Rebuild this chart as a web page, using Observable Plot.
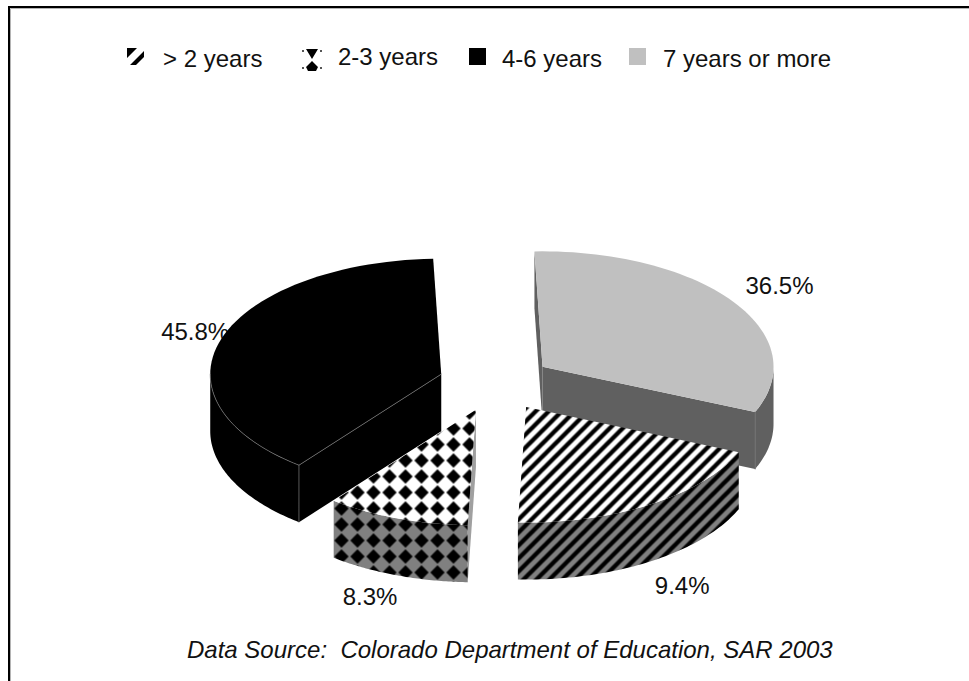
<!DOCTYPE html>
<html>
<head>
<meta charset="utf-8">
<script src="https://cdn.jsdelivr.net/npm/d3@7"></script>
<script src="https://cdn.jsdelivr.net/npm/@observablehq/plot@0.6"></script>
<style>
  html, body { margin: 0; padding: 0; background: #fff; }
  #page { position: relative; width: 969px; height: 681px; overflow: hidden;
          font-family: "Liberation Sans", Arial, sans-serif; color: #111; }
  #page > svg { position: absolute; left: 0; top: 0; }
  #legend span { position: absolute; font-size: 24px; line-height: 28px; white-space: nowrap; }
  #legend svg { position: absolute; }
  #source { position: absolute; left: 187px; top: 636px; font-size: 24px; font-style: italic; white-space: pre; }
</style>
</head>
<body>
<div id="page">
  <div id="legend"></div>
  <div id="source"></div>
</div>
<script>
// Years of teaching experience, share of teachers (percent)
const categories = ["7 years or more", "> 2 years", "2-3 years", "4-6 years"];
const shares = [36.5, 9.4, 8.3, 45.8];
const legendOrder = ["> 2 years", "2-3 years", "4-6 years", "7 years or more"];
const sourceNote = "Data Source:  Colorado Department of Education, SAR 2003";

// Disc geometry of the tilted, exploded pie, in page units
const centerX = 495, centerY = 382.5, radiusX = 231, radiusY = 115.5, depth = 57, explode = 0.247;

// The tilted view stretches the front of the disc and squeezes the rest:
// share-of-circle degrees map onto the ellipse parameter through this warp.
const viewAngle = d3.scaleLinear()
  .domain([0, 131.4, 165.2, 195.1, 360])
  .range([-2, 113, 182, 218, 358]);

const rad = (d) => d * Math.PI / 180;
let running = 0;
const slices = categories.map((name, i) => {
  const a0 = viewAngle(running * 3.6);
  running += shares[i];
  const a1 = viewAngle(running * 3.6);
  const mid = (a0 + a1) / 2;
  return {
    name, share: shares[i], a0, a1, mid,
    cx: centerX + explode * radiusX * Math.sin(rad(mid)),
    cy: centerY - explode * radiusY * Math.cos(rad(mid))
  };
});

const rimPoint = (s, a, drop = 0) => ({
  x: s.cx + radiusX * Math.sin(rad(a)),
  y: s.cy - radiusY * Math.cos(rad(a)) + drop
});
const arc = (s, from, to, drop = 0) =>
  d3.range(0, 61).map((k) => rimPoint(s, from + (to - from) * k / 60, drop));
const apex = (s, drop = 0) => ({x: s.cx, y: s.cy + drop});

// Faces of one slice
const topFace = (s) => [apex(s), ...arc(s, s.a0, s.a1)];
const rimFace = (s) => {
  const from = Math.max(s.a0, 90), to = Math.min(s.a1, 270);
  return from < to ? [...arc(s, from, to), ...arc(s, to, from, depth)] : [];
};
const radialFace = (s, a) => [apex(s), rimPoint(s, a), rimPoint(s, a, depth), apex(s, depth)];

const [gray, stripes, checks, black] = slices;

const face = (points, fill) =>
  Plot.line(points, {x: "x", y: "y", fill, stroke: "none", curve: "linear-closed"});
const edge = (points, stroke = "#7a7a7a", strokeWidth = 0.7) =>
  Plot.line(points, {x: "x", y: "y", stroke, strokeWidth, curve: "linear"});

// Percent labels sit just beyond the rim on each slice's middle direction
const labelAt = (s, reach, drop, nudgeX = 0, nudgeY = 0) => ({
  x: s.cx + reach * radiusX * Math.sin(rad(s.mid)) + nudgeX,
  y: s.cy - reach * radiusY * Math.cos(rad(s.mid)) + drop + nudgeY,
  text: s.share.toFixed(1) + "%"
});
const labels = [
  labelAt(gray, 1.25, 0, -1, 1),
  labelAt(stripes, 1.25, depth, 1),
  labelAt(checks, 1.2, depth, -11, 0),
  labelAt(black, 1.12, 0, 0, -2)
];

// Pattern fills used by the slices
function patternDefs() {
  const defs = d3.create("svg:defs");
  defs.append("filter").attr("id", "soft")
    .attr("filterUnits", "userSpaceOnUse")
    .attr("x", -6).attr("y", -6).attr("width", 40).attr("height", 40)
    .append("feGaussianBlur").attr("stdDeviation", 0.45);
  [["white", "#fff"], ["shade", "#808080"]].forEach(([key, ground]) => {
    const st = defs.append("pattern").attr("id", "stripe-" + key)
      .attr("patternUnits", "userSpaceOnUse").attr("width", 13).attr("height", 13)
      .attr("patternTransform", "translate(10,0)");
    st.append("rect").attr("width", 13).attr("height", 13).attr("fill", ground);
    const lines = st.append("g").attr("filter", "url(#soft)");
    [-13, 0, 13].forEach((o) =>
      lines.append("line").attr("x1", o - 4).attr("y1", 17).attr("x2", o + 17).attr("y2", -4)
        .attr("stroke", "#000").attr("stroke-width", 4.4));
    const ch = defs.append("pattern").attr("id", "check-" + key)
      .attr("patternUnits", "userSpaceOnUse").attr("width", 16).attr("height", 16)
      .attr("patternTransform", "translate(-3,4)");
    ch.append("rect").attr("width", 16).attr("height", 16).attr("fill", ground);
    ch.append("path").attr("d", "M8,0.8L15.2,8L8,15.2L0.8,8Z").attr("fill", "#000")
      .attr("filter", "url(#soft)");
  });
  return defs.node();
}

const chart = Plot.plot({
  width: 969,
  height: 681,
  margin: 0,
  x: {domain: [0, 969], range: [0, 969], axis: null},
  y: {domain: [0, 681], range: [0, 681], axis: null},
  style: {background: "transparent", overflow: "visible"},
  marks: [
    () => patternDefs(),
    // Farthest slices first, so that the nearer ones overlap them
    Plot.text(labels, {x: "x", y: "y", text: "text", fontSize: 24, fill: "#111",
                       fontFamily: "Liberation Sans, Arial, sans-serif"}),
    // 7 years or more
    face(radialFace(gray, gray.a0), "#606060"),
    face(radialFace(gray, gray.a1), "#606060"),
    face(rimFace(gray), "#606060"),
    face(topFace(gray), "#c0c0c0"),
    edge([rimPoint(gray, gray.a1), rimPoint(gray, gray.a1, depth)], "#707070", 1),
    // 4-6 years
    face(radialFace(black, black.a0), "#000"),
    face(rimFace(black), "#000"),
    face(topFace(black), "#000"),
    edge([...arc(black, 270, black.a0), apex(black)]),
    edge([rimPoint(black, black.a0), rimPoint(black, black.a0, depth)]),
    // > 2 years
    face(rimFace(stripes), "url(#stripe-shade)"),
    face(topFace(stripes), "url(#stripe-white)"),
    // 2-3 years
    face(radialFace(checks, checks.a0), "#a0a0a0"),
    face(rimFace(checks), "url(#check-shade)"),
    face(topFace(checks), "url(#check-white)")
  ]
});
document.getElementById("page").prepend(chart);

// Outer frame: the panel is open at the bottom and right
const frame = d3.select(chart);
frame.append("path").attr("d", "M10.5,681V8.5H969").attr("fill", "none")
  .attr("stroke", "#b4b4b4").attr("stroke-width", 1);
frame.append("path").attr("d", "M9,681V7H969").attr("fill", "none")
  .attr("stroke", "#000").attr("stroke-width", 2);

document.getElementById("source").textContent = sourceNote;

// Legend keys: enlarged samples of each slice's fill
const legendLayout = [
  {swatch: 127, size: [17, 17], label: 163, top: 45},
  {swatch: 301, size: [22, 24], label: 338, top: 43},
  {swatch: 469, size: [17, 17], label: 502, top: 45},
  {swatch: 629, size: [17, 17], label: 663, top: 45}
];
const drawKey = [
  (key) => {
    key.append("rect").attr("width", 17).attr("height", 17).attr("fill", "#fff");
    key.append("path").attr("d", "M0,0H10L0,10Z M17,3V9L9,17H3Z").attr("fill", "#000")
      .attr("filter", "url(#soft)");
  },
  (key) => {
    key.append("path").attr("fill", "#000").attr("filter", "url(#soft)")
      .attr("d", "M5,1H17L11,11Z M11,13L17,19L15,23H7L5,19Z");
    key.append("path").attr("fill", "#555")
      .attr("d", "M1,2h2v2h-2Z M19,2h2v2h-2Z M1,19h2v2h-2Z M19,19h2v2h-2Z");
  },
  (key) => key.append("rect").attr("width", 17).attr("height", 17).attr("fill", "#000"),
  (key) => key.append("rect").attr("width", 17).attr("height", 17).attr("fill", "#c0c0c0")
];
const legend = d3.select("#legend");
legendOrder.forEach((name, i) => {
  const p = legendLayout[i];
  const key = legend.append("svg").attr("width", p.size[0]).attr("height", p.size[1])
    .style("left", p.swatch + "px").style("top", "48px");
  drawKey[i](key);
  legend.append("span").text(name).style("left", p.label + "px").style("top", p.top + "px");
});
</script>
</body>
</html>
